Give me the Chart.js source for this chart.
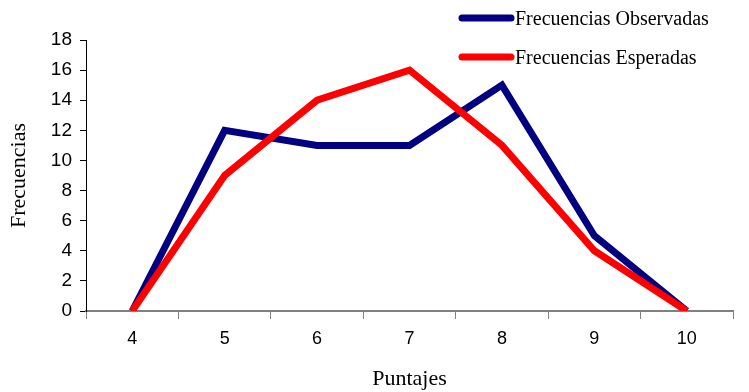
<!DOCTYPE html>
<html>
<head>
<meta charset="utf-8">
<script src="https://cdn.jsdelivr.net/npm/chart.js@4/dist/chart.umd.min.js"></script>
<style>
  html, body { margin: 0; padding: 0; background: #fff; }
  #wrap { width: 749px; height: 392px; }
</style>
</head>
<body>
<div id="wrap"><canvas id="freqChart"></canvas></div>
<script>
const puntajes = ['4', '5', '6', '7', '8', '9', '10'];
const observadas = [0, 12, 11, 11, 15, 5, 0];
const esperadas = [0, 9, 14, 16, 11, 4, 0];

// legend drawn by hand at the top right, like the original
const sideLegend = {
  id: 'sideLegend',
  afterDraw(chart) {
    const ctx = chart.ctx;
    ctx.save();
    ctx.font = '20px "Liberation Serif", "Times New Roman", serif';
    ctx.textBaseline = 'middle';
    ctx.lineCap = 'round';
    chart.data.datasets.forEach((ds, i) => {
      const y = 18 + i * 39;
      ctx.strokeStyle = ds.borderColor;
      ctx.lineWidth = 7;
      ctx.beginPath();
      ctx.moveTo(462, y);
      ctx.lineTo(511, y);
      ctx.stroke();
      ctx.fillStyle = '#000';
      ctx.fillText(ds.label, 515, y + 2);
    });
    ctx.restore();
  }
};

const ctx = document.getElementById('freqChart').getContext('2d');
new Chart(ctx, {
  type: 'line',
  data: {
    labels: puntajes,
    datasets: [
      {
        label: 'Frecuencias Observadas',
        data: observadas,
        borderColor: '#000080',
        borderWidth: 7,
        pointRadius: 0,
        borderJoinStyle: 'miter',
        tension: 0,
        order: 1
      },
      {
        label: 'Frecuencias Esperadas',
        data: esperadas,
        borderColor: '#ff0000',
        borderWidth: 7,
        pointRadius: 0,
        borderJoinStyle: 'miter',
        tension: 0,
        order: 0
      }
    ]
  },
  options: {
    responsive: true,
    maintainAspectRatio: false,
    animation: false,
    layout: { padding: { left: 0, right: 16, top: 40, bottom: 0 } },
    plugins: {
      legend: { display: false },
      tooltip: { enabled: false }
    },
    scales: {
      x: {
        offset: true,
        grid: { offset: true, drawOnChartArea: false, tickLength: 8, color: '#808080', lineWidth: 1 },
        border: { color: '#808080', width: 2 },
        ticks: { color: '#000', padding: 9, font: { family: '"Liberation Sans", Arial, sans-serif', size: 18 } },
        title: { display: true, text: 'Puntajes', color: '#000', padding: { top: 4, bottom: 0 }, font: { family: '"Liberation Serif", "Times New Roman", serif', size: 22 } },
        afterFit(scale) { scale.height = 81; }
      },
      y: {
        min: 0,
        max: 18,
        ticks: { stepSize: 2, color: '#000', padding: 8, font: { family: '"Liberation Sans", Arial, sans-serif', size: 19 } },
        grid: { drawOnChartArea: false, tickLength: 6, color: '#000' },
        border: { color: '#000', width: 1 },
        title: { display: true, text: 'Frecuencias', color: '#000', padding: { top: 6, bottom: 4 }, font: { family: '"Liberation Serif", "Times New Roman", serif', size: 22 } },
        afterFit(scale) { scale.width = 86; }
      }
    }
  },
  plugins: [sideLegend]
});
</script>
</body>
</html>
